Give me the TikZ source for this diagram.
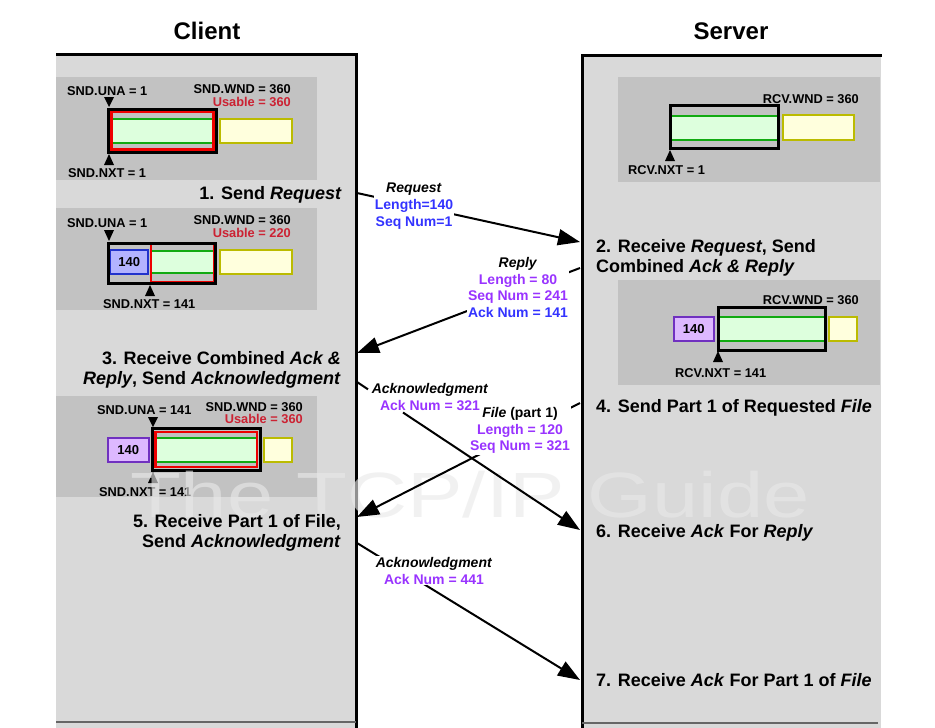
\documentclass[tikz,border=0pt]{standalone}
\usepackage{fontspec}
\setmainfont{Liberation Sans}
\usetikzlibrary{arrows.meta}
\definecolor{panel}{HTML}{D9D9D9}
\definecolor{subp}{HTML}{C2C2C2}
\definecolor{gfill}{HTML}{DDFFDD}
\definecolor{gline}{HTML}{11AA11}
\definecolor{yfill}{HTML}{FFFFDD}
\definecolor{yline}{HTML}{BBBB00}
\definecolor{bfill}{HTML}{B3B3FF}
\definecolor{bline}{HTML}{2233CC}
\definecolor{pfill}{HTML}{DDB8FF}
\definecolor{pline}{HTML}{7030C0}
\definecolor{wred}{HTML}{EE0000}
\definecolor{ured}{HTML}{CC2233}
\definecolor{tblue}{HTML}{3333FF}
\definecolor{tpurp}{HTML}{9933FF}
\definecolor{botline}{HTML}{666666}
\definecolor{wmark}{HTML}{E9E9E9}
\newcommand{\greenwin}[4]{\fill[gfill] (#1,#2) rectangle (#3,#4); \draw[gline,line width=2pt] (#1,#2) -- (#3,#2) (#1,#4) -- (#3,#4);}
\newcommand{\ptrdown}[3]{\fill (#1-5,#2) -- (#1+5,#2) -- (#1,#3) -- cycle;}
\newcommand{\ptrup}[3]{\fill (#1-5,#3) -- (#1+5,#3) -- (#1,#2) -- cycle;}
\begin{document}
\begin{tikzpicture}[x=1pt,y=-1pt,
  snd/.style={font=\fontsize{12.8}{14}\selectfont\bfseries, inner sep=0pt},
  stepl/.style={font=\fontsize{18}{20}\selectfont\bfseries, inner sep=0pt},
  ttl/.style={font=\fontsize{24}{26}\selectfont\bfseries, inner sep=0pt},
  msg/.style={font=\fontsize{14}{16.8}\selectfont\bfseries, align=center, inner sep=1pt},
  msgline/.style={line width=2pt, -{Triangle[length=22pt,width=16pt]}},
  blackwin/.style={draw=black, line width=3pt},
  redwin/.style={draw=wred, line width=2.5pt},
  ybox/.style={draw=yline, fill=yfill, line width=2pt},
  bbox/.style={draw=bline, fill=bfill, line width=2pt},
  pbox/.style={draw=pline, fill=pfill, line width=2pt},
  num/.style={font=\fontsize{13}{14}\selectfont\bfseries, inner sep=0pt},
]
\useasboundingbox (0,0) rectangle (935,728);
% panels
\fill[panel] (56,54) rectangle (356,728);
\draw[line width=3pt] (56,54) -- (356,54) -- (356,728);
\draw[botline, line width=2pt] (56,722) -- (356,722);
\fill[panel] (582,55) rectangle (881,728);
\draw[line width=3pt] (582,728) -- (582,55) -- (882,55);
\draw[botline, line width=2pt] (582,723) -- (878,723);
% sub panels
\fill[subp] (56,77) rectangle (317,180);
\fill[subp] (56,208) rectangle (317,310);
\fill[subp] (56,396) rectangle (317,497);
\fill[subp] (618,77) rectangle (880,182);
\fill[subp] (618,280) rectangle (880,385);
% titles
\node[ttl, anchor=base] (tclient) at (207,39) {Client};
\node[ttl, anchor=base] (tserver) at (731,39) {Server};
% ---- panel A
\greenwin{112}{119}{213}{143}
\draw[redwin] (111.5,112) rectangle (213.5,149.5);
\draw[blackwin] (108.5,109) rectangle (216,152.5);
\draw[ybox] (220.3,119.3) rectangle (292.3,143);
\ptrdown{109}{97}{107}
\ptrup{109}{154}{165}
\node[snd, anchor=base west] (aUna) at (67,95) {SND.UNA = 1};
\node[snd, anchor=base east] (aWnd) at (291,93) {SND.WND = 360};
\node[snd, anchor=base east, text=ured] (aUse) at (291,106) {Usable = 360};
\node[snd, anchor=base west] (aNxt) at (68,177) {SND.NXT = 1};
% ---- panel B
\draw[bbox] (110.3,250.3) rectangle (148,274);
\node[num] (bNum) at (129.2,262.2) {140};
\greenwin{152}{251}{213}{273}
\draw[redwin] (150.8,243.7) rectangle (214.3,281.8);
\draw[blackwin] (108.5,243.2) rectangle (215.8,283.5);
\draw[ybox] (220.3,250.3) rectangle (292.3,274);
\ptrdown{109}{230}{241}
\ptrup{150}{285}{296}
\node[snd, anchor=base west] (bUna) at (67,227) {SND.UNA = 1};
\node[snd, anchor=base east] (bWnd) at (291,224) {SND.WND = 360};
\node[snd, anchor=base east, text=ured] (bUse) at (291,237) {Usable = 220};
\node[snd, anchor=base west] (bNxt) at (103,308) {SND.NXT = 141};
% ---- panel C
\draw[pbox] (107.7,437.7) rectangle (149,462.3);
\node[num] (cNum) at (128.3,450) {140};
\greenwin{156}{438}{256.5}{462}
\draw[redwin] (155.5,431.8) rectangle (257.2,467.2);
\draw[blackwin] (152.5,428.8) rectangle (260.2,470.2);
\draw[ybox] (263.7,437.7) rectangle (291.7,462.3);
\ptrdown{153}{417}{427}
\ptrup{153}{472}{483}
\node[snd, anchor=base west] (cUna) at (97,414) {SND.UNA = 141};
\node[snd, anchor=base east] (cWnd) at (303,411) {SND.WND = 360};
\node[snd, anchor=base east, text=ured] (cUse) at (303,423) {Usable = 360};
\node[snd, anchor=base west] (cNxt) at (99,496) {SND.NXT = 141};
% ---- panel D
\greenwin{672}{115.5}{777}{139.5}
\draw[blackwin] (670.8,105.8) rectangle (778.5,148.5);
\draw[ybox] (782.7,115.3) rectangle (854,139.7);
\ptrup{670}{150}{161}
\node[snd, anchor=base east] (dWnd) at (859,103) {RCV.WND = 360};
\node[snd, anchor=base west] (dNxt) at (628,174) {RCV.NXT = 1};
% ---- panel E
\draw[pbox] (673.7,317) rectangle (714,340.7);
\node[num] (eNum) at (693.8,328.9) {140};
\greenwin{718}{317}{825}{340.7}
\draw[blackwin] (718.2,307.5) rectangle (825.8,350.2);
\draw[ybox] (829.3,317) rectangle (857.3,340.7);
\ptrup{718}{351}{362}
\node[snd, anchor=base east] (eWnd) at (859,304) {RCV.WND = 360};
\node[snd, anchor=base west] (eNxt) at (675,377) {RCV.NXT = 141};
% ---- watermark
\node[font=\fontsize{64}{64}\selectfont, text=wmark, text opacity=0.62, inner sep=0pt, anchor=base] (wm) at (470,517) {\scalebox{1.3}[1]{The TCP/IP Guide}};
% ---- step labels
\node[stepl, anchor=base east] (s1) at (342,199) {1. Send \textit{Request}};
\node[stepl, anchor=north west, align=left] (s2) at (596,239) {2. Receive \textit{Request}, Send\\Combined \textit{Ack \& Reply}};
\node[stepl, anchor=north east, align=right] (s3) at (341,351) {3. Receive Combined \textit{Ack \&}\\\textit{Reply}, Send \textit{Acknowledgment}};
\node[stepl, anchor=base west] (s4) at (596,412) {4. Send Part 1 of Requested \textit{File}};
\node[stepl, anchor=north east, align=right] (s5) at (341,514) {5. Receive Part 1 of File,\\Send \textit{Acknowledgment}};
\node[stepl, anchor=base west] (s6) at (596,537) {6. Receive \textit{Ack} For \textit{Reply}};
\node[stepl, anchor=base west] (s7) at (596,686) {7. Receive \textit{Ack} For Part 1 of \textit{File}};
% ---- connector end points on the borders and label gaps
\coordinate (cReq) at (357,193);
\coordinate (sReq) at (580,242);
\coordinate (sRep) at (580,268);
\coordinate (cRep) at (357,353);
\coordinate (cAck1) at (357,382);
\coordinate (gAck1a) at (368,389.3);
\coordinate (gAck1b) at (403,412.5);
\coordinate (sAck1) at (580,530);
\coordinate (sFile) at (580,403);
\coordinate (cFile) at (357,517);
\coordinate (cAck2) at (357,543);
\coordinate (sAck2) at (580,680);
% ---- messages
\draw[msgline] (cReq) -- (sReq);
\node[msg, fill=white, anchor=north] (mReq) at (414,182) {\textit{Request}\\\textcolor{tblue}{Length=140}\\\textcolor{tblue}{Seq Num=1}};
\draw[msgline] (sRep) -- (cRep);
\node[msg, fill=white, anchor=north] (mRep) at (518,256) {\textit{Reply}\\\textcolor{tpurp}{Length = 80}\\\textcolor{tpurp}{Seq Num = 241}\\\textcolor{tblue}{Ack Num = 141}};
\draw[line width=2pt] (cAck1) -- (gAck1a);
\draw[msgline] (gAck1b) -- (sAck1);
\draw[msgline] (sFile) -- (cFile);
\node[msg, fill=white, anchor=north] (mFile) at (520,406) {\textit{File} (part 1)\\\textcolor{tpurp}{Length = 120}\\\textcolor{tpurp}{Seq Num = 321}};
\node[msg, anchor=north] (mAck1) at (430,382) {\textit{Acknowledgment}\\\textcolor{tpurp}{Ack Num = 321}};
\draw[msgline] (cAck2) -- (sAck2);
\node[msg, fill=white, anchor=north] (mAck2) at (434,556) {\textit{Acknowledgment}\\\textcolor{tpurp}{Ack Num = 441}};
\end{tikzpicture}
\end{document}
